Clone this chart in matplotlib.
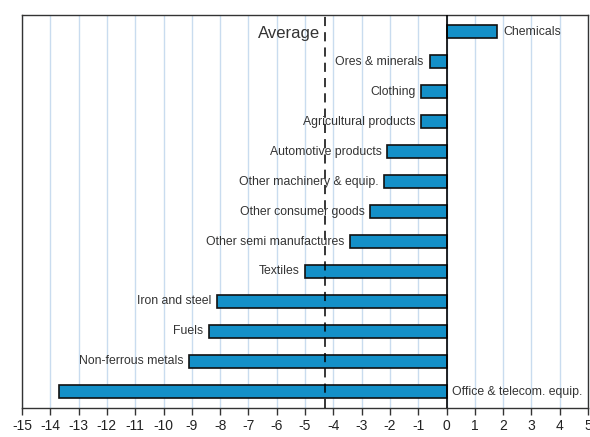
import matplotlib
matplotlib.use("Agg")
import matplotlib.pyplot as plt

categories = ["Chemicals", "Ores & minerals", "Clothing", "Agricultural products",
              "Automotive products", "Other machinery & equip.", "Other consumer goods",
              "Other semi manufactures", "Textiles", "Iron and steel", "Fuels",
              "Non-ferrous metals", "Office & telecom. equip."]
values = [1.8, -0.6, -0.9, -0.9, -2.1, -2.2, -2.7, -3.4, -5.0, -8.1, -8.4, -9.1, -13.7]
average = -4.3
xticks = list(range(-15, 6))

plt.rcParams['font.family'] = ['Liberation Sans', 'DejaVu Sans']

fig = plt.figure(figsize=(5.9, 4.37), dpi=100)
ax = fig.add_axes([22/590, 1 - 408/437, (588-22)/590, (408-15)/437])

y = list(range(len(categories)))
ax.barh(y, values, height=0.45, color="#1490C8", edgecolor="#111111", linewidth=1.2, zorder=3)
ax.set_ylim(len(categories) - 0.45, -0.55)
ax.set_xlim(-15, 5)
ax.set_xticks(xticks)
ax.set_xticklabels([str(t) for t in xticks], fontsize=10, color="#222222")
ax.set_yticks([])
for t in xticks:
    ax.axvline(t, color="#c9dcef", linewidth=1, zorder=0)
ax.axvline(0, color="black", linewidth=1.2, zorder=4)
ax.axvline(average, color="black", linewidth=1.1, linestyle=(0, (6, 4)), zorder=4)
ax.text(average - 0.15, 0.05, "Average", ha="right", va="center", fontsize=12, color="#333333", zorder=5)

for i, (c, v) in enumerate(zip(categories, values)):
    if v > 0:
        ax.text(v + 0.2, i, c, ha="left", va="center", fontsize=8.8, color="#333333", zorder=5)
    elif v < -12:
        ax.text(0.2, i, c, ha="left", va="center", fontsize=8.8, color="#333333", zorder=5)
    else:
        ax.text(v - 0.2, i, c, ha="right", va="center", fontsize=8.8, color="#333333", zorder=5)

for s in ax.spines.values():
    s.set_color("#333333")
    s.set_linewidth(1.0)
ax.tick_params(axis="x", direction="out", length=5, width=1, color="#333333", pad=3)

fig.savefig("out.png", dpi=100)
